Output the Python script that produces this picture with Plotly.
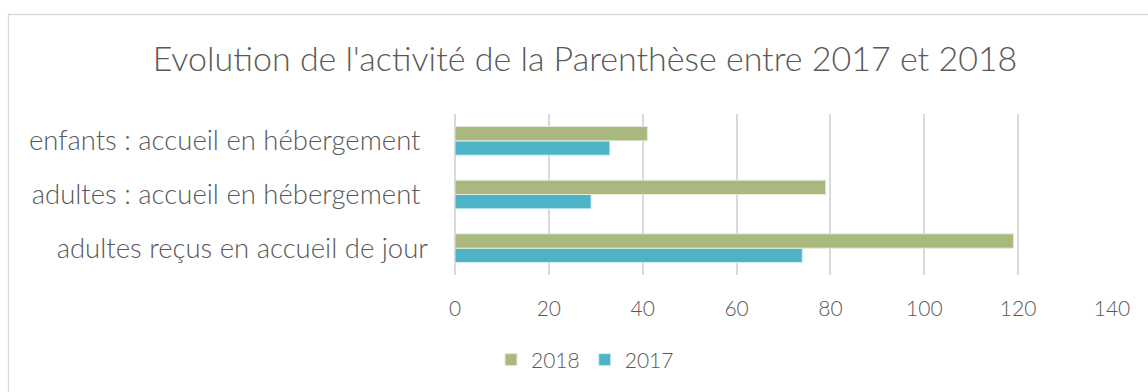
import plotly.graph_objects as go

# Categories listed bottom-to-top as they appear on the axis
categories = [
    "adultes reçus en accueil de jour",
    "adultes : accueil en hébergement\u00a0",
    "enfants : accueil en hébergement\u00a0",
]
values_2017 = [74, 29, 33]
values_2018 = [119, 79, 41]

x_ticks = [0, 20, 40, 60, 80, 100, 120, 140]

W, H = 1148, 392
ML, MR, MT, MB = 455, 36, 114, 117
PW, PH = W - ML - MR, H - MT - MB

FONT = "Lato"
TXT = "#595959"

fig = go.Figure()
fig.add_trace(go.Bar(
    y=categories, x=values_2017, name="2017", orientation="h",
    marker=dict(color="#4FB3C8", line=dict(color="#D6ECF2", width=1)),
))
fig.add_trace(go.Bar(
    y=categories, x=values_2018, name="2018", orientation="h",
    marker=dict(color="#A8B87E", line=dict(color="#E6EBD9", width=1)),
))

# light chart-area frame
def px_to_paper_x(px):
    return (px - ML) / PW

def py_to_paper_y(py):
    return (H - MB - py) / PH

fig.add_shape(
    type="rect", xref="paper", yref="paper",
    x0=px_to_paper_x(8.5), x1=px_to_paper_x(W + 10),
    y0=py_to_paper_y(H + 10), y1=py_to_paper_y(14.5),
    line=dict(color="#D9D9D9", width=1.3), fillcolor="rgba(0,0,0,0)", layer="below",
)

fig.update_layout(
    width=W, height=H,
    margin=dict(l=ML, r=MR, t=MT, b=MB, pad=0),
    paper_bgcolor="white", plot_bgcolor="white",
    barmode="group", bargap=0.466, bargroupgap=0,
    font=dict(family=FONT, color=TXT, weight=300),
    title=dict(
        text="Evolution de l'activité de la Parenthèse entre 2017 et 2018",
        x=585 / W, xanchor="center", xref="container",
        y=1 - 59 / H, yanchor="middle", yref="container",
        font=dict(family=FONT, size=34, color=TXT, weight=300),
    ),
    xaxis=dict(
        range=[0, 140], tickvals=x_ticks, showgrid=True,
        gridcolor="#D9D9D9", gridwidth=1.5, zeroline=True,
        zerolinecolor="#D9D9D9", zerolinewidth=1.5, showline=False,
        ticks="", tickfont=dict(family=FONT, size=21, color=TXT, weight=300),
        ticklabelstandoff=19, fixedrange=True,
    ),
    yaxis=dict(
        showgrid=False, zeroline=False, showline=False, ticks="",
        tickfont=dict(family=FONT, size=27.5, color=TXT, weight=300),
        ticklabelstandoff=26, fixedrange=True,
    ),
    legend=dict(
        orientation="h", traceorder="reversed",
        xref="container", yref="container",
        x=585 / W, xanchor="center", y=1 - 360 / H, yanchor="middle",
        font=dict(family=FONT, size=21, color=TXT, weight=300),
        itemwidth=30,
    ),
    showlegend=True,
)

fig.write_html("out.html")
